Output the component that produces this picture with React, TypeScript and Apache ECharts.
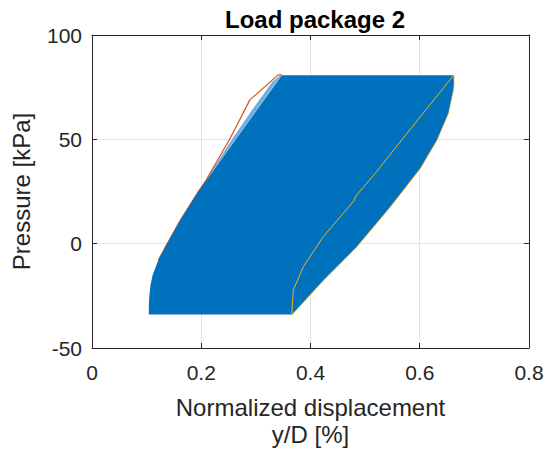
import React, { useEffect, useRef } from "react";
import * as echarts from "echarts";

// Axis ticks
const xTickValues = [0, 0.2, 0.4, 0.6, 0.8];
const xTickLabels = ["0", "0.2", "0.4", "0.6", "0.8"];
const yTickValues = [-50, 0, 50, 100];
const yTickLabels = ["-50", "0", "50", "100"];

// Blue hysteresis envelope (outline of the dense loops)
const blueX = [0.104, 0.104, 0.105, 0.107, 0.111, 0.1215, 0.138, 0.161, 0.1946, 0.3475, 0.662, 0.662, 0.661, 0.652, 0.631, 0.6005, 0.5455, 0.4845, 0.4235, 0.3656];
const blueY = [-34, -30, -25, -20, -15, -7.8, 0.2, 11, 25, 80.7, 80.7, 76, 73.7, 62.5, 49.7, 36.1, 17.7, -1.4, -17.4, -34];

// Light-blue streak band at the upper-left edge (outer line, then back along the edge)
const streakX = [0.2, 0.25, 0.29, 0.33, 0.345, 0.3475, 0.3377, 0.2984, 0.256, 0.2];
const streakY = [27, 47.5, 63, 77.5, 80.7, 80.7, 77.5, 63, 47.5, 27];

// Orange curve
const orangeX = [0.1215, 0.138, 0.161, 0.1946, 0.209, 0.253, 0.289, 0.341, 0.3475];
const orangeY = [-7.8, 0.2, 11, 25, 30.5, 50.5, 68.9, 80.9, 80.9];

// Yellow curve: outer (right) branch and inner branch
const yellowOuterX = [0.3656, 0.4235, 0.4845, 0.5455, 0.6005, 0.631, 0.652, 0.661, 0.662, 0.662];
const yellowOuterY = [-34, -17.4, -1.4, 17.7, 36.1, 49.7, 62.5, 73.7, 76, 80.7];
const yellowInnerX = [0.662, 0.567, 0.521, 0.4845, 0.478, 0.4235, 0.387, 0.3686, 0.3656];
const yellowInnerY = [80.7, 49.7, 34.5, 23.3, 20.1, 3.4, -11, -22.2, -34];

const BLUE = "#0072BD";
const ORANGE = "#D95319";
const YELLOW = "#EDB120";
const AXIS = "#262626";
const FONT = "'Liberation Sans', Arial, Helvetica, sans-serif";

const zip = (xs: number[], ys: number[]) => xs.map((x, i) => [x, ys[i]]);

export default function App() {
  const ref = useRef<HTMLDivElement>(null);
  useEffect(() => {
    if (!ref.current) return;
    const chart = echarts.init(ref.current, undefined, { renderer: "svg" });
    const xStep = xTickValues[1] - xTickValues[0];
    const yStep = yTickValues[1] - yTickValues[0];
    const xMin = xTickValues[0];
    const xMax = xTickValues[xTickValues.length - 1];
    const yMin = yTickValues[0];
    const yMax = yTickValues[yTickValues.length - 1];
    const tickStyle = { inside: true, length: 5, lineStyle: { color: AXIS, width: 1 } };
    const lineStyle = { show: true, onZero: false, lineStyle: { color: AXIS, width: 1 } };
    const polygonItem = (xs: number[], ys: number[], fill: string, opacity: number) =>
      (_params: any, api: any) => ({
        type: "polygon",
        shape: { points: xs.map((x, i) => api.coord([x, ys[i]])) },
        style: { fill, opacity },
      });
    chart.setOption({
      animation: false,
      backgroundColor: "#ffffff",
      title: {
        text: "Load package 2",
        left: 310,
        textAlign: "center",
        top: 2,
        textStyle: { fontFamily: FONT, fontSize: 24, fontWeight: "bold", color: "#000" },
      },
      grid: { left: 92, right: 18, top: 35, bottom: 109, containLabel: false },
      xAxis: [
        {
          type: "value",
          min: xMin,
          max: xMax,
          interval: xStep,
          position: "bottom",
          name: "Normalized displacement\ny/D [%]",
          nameLocation: "middle",
          nameGap: 46,
          nameTextStyle: { fontFamily: FONT, fontSize: 24, color: AXIS, lineHeight: 27 },
          axisLine: lineStyle,
          axisTick: tickStyle,
          axisLabel: {
            margin: 14,
            fontFamily: FONT,
            fontSize: 21,
            color: AXIS,
            formatter: (v: number) => xTickLabels[Math.round((v - xMin) / xStep)] ?? "",
          },
          splitLine: { show: true, lineStyle: { color: "#e3e3e3", width: 1 } },
        },
        {
          type: "value",
          min: xMin,
          max: xMax,
          interval: xStep,
          position: "top",
          axisLine: lineStyle,
          axisTick: tickStyle,
          axisLabel: { show: false },
          splitLine: { show: false },
        },
      ],
      yAxis: [
        {
          type: "value",
          min: yMin,
          max: yMax,
          interval: yStep,
          position: "left",
          name: "Pressure [kPa]",
          nameLocation: "middle",
          nameGap: 59,
          nameTextStyle: { fontFamily: FONT, fontSize: 24, color: AXIS },
          axisLine: lineStyle,
          axisTick: tickStyle,
          axisLabel: {
            margin: 10,
            fontFamily: FONT,
            fontSize: 21,
            color: AXIS,
            formatter: (v: number) => yTickLabels[Math.round((v - yMin) / yStep)] ?? "",
          },
          splitLine: { show: true, lineStyle: { color: "#e3e3e3", width: 1 } },
        },
        {
          type: "value",
          min: yMin,
          max: yMax,
          interval: yStep,
          position: "right",
          axisLine: lineStyle,
          axisTick: tickStyle,
          axisLabel: { show: false },
          splitLine: { show: false },
        },
      ],
      series: [
        {
          type: "line",
          data: zip(orangeX, orangeY),
          showSymbol: false,
          symbol: "none",
          lineStyle: { color: ORANGE, width: 1.2 },
          z: 1,
          silent: true,
        },
        {
          type: "line",
          data: zip(yellowOuterX, yellowOuterY),
          showSymbol: false,
          symbol: "none",
          lineStyle: { color: YELLOW, width: 1.4 },
          z: 1,
          silent: true,
        },
        {
          type: "custom",
          data: [[xMin, yMin]],
          z: 1,
          silent: true,
          clip: true,
          renderItem: polygonItem(streakX, streakY, "#5ea6de", 0.9),
        },
        {
          type: "custom",
          data: [[xMin, yMin]],
          z: 2,
          silent: true,
          clip: true,
          renderItem: polygonItem(blueX, blueY, BLUE, 1),
        },
        {
          type: "line",
          data: zip(yellowInnerX, yellowInnerY),
          showSymbol: false,
          symbol: "none",
          lineStyle: { color: YELLOW, width: 1 },
          z: 3,
          silent: true,
        },
      ],
    });
    return () => chart.dispose();
  }, []);
  return <div ref={ref} style={{ width: 547, height: 457, position: "absolute", left: 0, top: 0 }} />;
}
